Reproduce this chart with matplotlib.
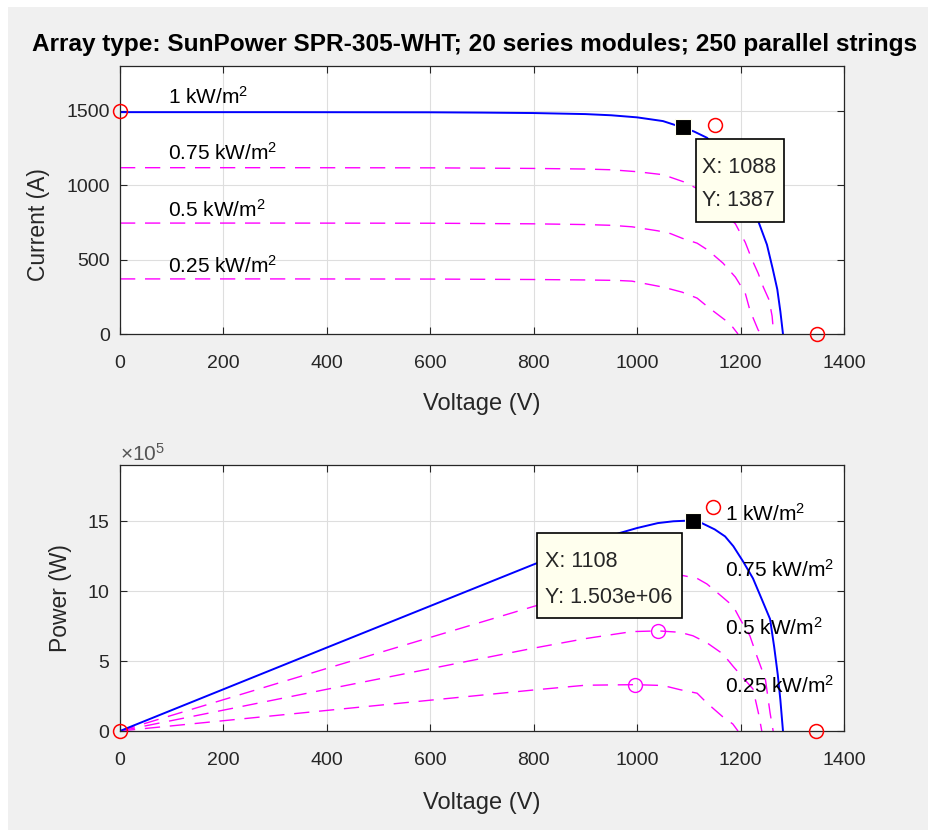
from __future__ import annotations

import matplotlib

matplotlib.use("Agg")
import matplotlib.pyplot as plt
from matplotlib.patches import Rectangle

TITLE = "Array type: SunPower SPR-305-WHT; 20 series modules; 250 parallel strings"
LEVEL_LABELS = ["1 kW/m$^2$", "0.75 kW/m$^2$", "0.5 kW/m$^2$", "0.25 kW/m$^2$"]

# I-V curves, voltage in V and current in A
V_IV_100 = [0, 300, 600, 700, 800, 900, 950, 1000, 1050, 1088, 1110, 1135, 1160, 1186, 1200, 1215, 1234, 1251, 1262, 1271, 1277, 1282]
I_IV_100 = [1490, 1490, 1489, 1487, 1484, 1477, 1469, 1455, 1430, 1387, 1360, 1318, 1230, 1113, 1040, 950, 760, 600, 440, 300, 150, 0]
V_IV_75 = [0, 300, 600, 800, 900, 950, 1000, 1050, 1090, 1116, 1135, 1164, 1190, 1209, 1222, 1234, 1244, 1255, 1261, 1264]
I_IV_75 = [1117, 1117, 1116, 1112, 1108, 1103, 1090, 1070, 1022, 977, 925, 825, 740, 616, 500, 408, 315, 230, 120, 0]
V_IV_50 = [0, 300, 600, 800, 900, 950, 990, 1040, 1064, 1087, 1116, 1137, 1166, 1190, 1209, 1218, 1234, 1240]
I_IV_50 = [745, 745, 744, 740, 735, 730, 720, 693, 675, 643, 610, 563, 476, 382, 275, 160, 27, 0]
V_IV_25 = [0, 300, 600, 800, 900, 960, 990, 1050, 1087, 1116, 1137, 1170, 1185, 1195]
I_IV_25 = [370, 370, 369, 366, 363, 360, 355, 315, 281, 241, 181, 94, 45, 0]

# P-V curves, voltage in V and power in W
V_PV_100 = [0, 400, 800, 900, 967, 1000, 1040, 1070, 1095, 1108, 1125, 1150, 1170, 1186, 1205, 1224, 1240, 1257, 1265, 1272, 1277, 1282]
P_PV_100 = [0, 5.96e5, 11.9e5, 13.3e5, 14.15e5, 14.5e5, 14.85e5, 14.98e5, 15.02e5, 15.03e5, 14.85e5, 14.4e5, 13.9e5, 13.2e5, 12.1e5, 10.9e5, 9.5e5, 8.0e5, 6.0e5, 4.0e5, 2.2e5, 0]
V_PV_75 = [0, 400, 800, 900, 1000, 1050, 1089, 1116, 1135, 1164, 1186, 1199, 1218, 1232, 1248, 1257, 1263]
P_PV_75 = [0, 4.47e5, 8.9e5, 9.97e5, 10.9e5, 11.2e5, 11.1e5, 10.9e5, 10.5e5, 9.6e5, 8.9e5, 8.0e5, 6.8e5, 5.3e5, 3.7e5, 1.3e5, 0]
V_PV_50 = [0, 400, 800, 900, 990, 1041, 1083, 1108, 1135, 1166, 1186, 1224, 1235, 1241]
P_PV_50 = [0, 2.98e5, 5.92e5, 6.6e5, 7.1e5, 7.15e5, 7.05e5, 6.8e5, 6.3e5, 5.5e5, 4.6e5, 3.0e5, 1.2e5, 0]
V_PV_25 = [0, 400, 800, 900, 996, 1050, 1083, 1116, 1135, 1166, 1185, 1195]
P_PV_25 = [0, 1.47e5, 2.93e5, 3.27e5, 3.31e5, 3.25e5, 2.95e5, 2.7e5, 2.0e5, 1.0e5, 0.5e5, 0]

# reference points (red circles) and maximum power markers
REF_V_IV = [0, 1151, 1348]
REF_I_IV = [1500, 1406, 0]
REF_V_PV = [0, 1147, 1346]
REF_P_PV = [0, 16.0e5, 0]
MPP_V = [1055, 1041, 996]
MPP_P = [11.2e5, 7.15e5, 3.31e5]

TIP_IV = (1088, 1387)
TIP_PV = (1108, 1.503e6)

BLUE = "#0000ff"
MAGENTA = "#ff00ff"
RED = "#ff0000"
DARK = "#262626"
TIP_FACE = "#ffffee"


def _style_axes(ax, ylim, yticks):
    ax.set_xlim(0, 1400)
    ax.set_xticks(range(0, 1401, 200))
    ax.set_ylim(*ylim)
    ax.set_yticks(yticks)
    ax.grid(True, color="#dedede", linewidth=0.8)
    ax.set_axisbelow(True)
    ax.tick_params(direction="in", top=True, right=True, length=5, width=0.8,
                   colors=DARK, labelsize=14)
    ax.tick_params(axis="x", pad=15)
    ax.tick_params(axis="y", pad=7)
    for spine in ax.spines.values():
        spine.set_color(DARK)
        spine.set_linewidth(0.9)


def _datatip(ax, box, text_x, rows):
    x0, y0, x1, y1 = box
    ax.add_patch(Rectangle((x0, y0), x1 - x0, y1 - y0, facecolor=TIP_FACE,
                           edgecolor="black", linewidth=1.2, zorder=6))
    for y, row in rows:
        ax.text(text_x, y, row, fontsize=15.5, color=DARK, va="center", ha="left", zorder=7)


def main() -> None:
    plt.rcParams["font.family"] = ["Liberation Sans", "DejaVu Sans"]
    plt.rcParams["mathtext.fontset"] = "custom"
    plt.rcParams["mathtext.rm"] = "Liberation Sans"
    plt.rcParams["mathtext.default"] = "regular"

    fig = plt.figure(figsize=(9.29, 8.30), dpi=100, facecolor="white")
    fig.patches.append(Rectangle((8 / 929, 0), 1, 1 - 7 / 830, transform=fig.transFigure,
                                 facecolor="#f0f0f0", edgecolor="none", zorder=-10))

    dash = (0, (11, 7))

    # --- current vs voltage ---
    ax1 = fig.add_axes([120 / 929, 1 - 334 / 830, 724 / 929, 268 / 830])
    _style_axes(ax1, (0, 1800), [0, 500, 1000, 1500])
    ax1.plot(V_IV_75, I_IV_75, color=MAGENTA, lw=1.0, ls=dash)
    ax1.plot(V_IV_50, I_IV_50, color=MAGENTA, lw=1.0, ls=dash)
    ax1.plot(V_IV_25, I_IV_25, color=MAGENTA, lw=1.0, ls=dash)
    ax1.plot(V_IV_100, I_IV_100, color=BLUE, lw=1.4)
    ax1.plot(REF_V_IV, REF_I_IV, ls="none", marker="o", ms=10, mfc="none", mec=RED, mew=1.1, clip_on=False, zorder=5)
    ax1.plot(*TIP_IV, marker="s", ms=11, color="black", mec="#fffff0", mew=0.8, zorder=5)
    for label, y in zip(LEVEL_LABELS, [1590, 1215, 835, 460]):
        ax1.text(93, y, label, fontsize=15, color="black", va="center", ha="left")
    _datatip(ax1, (1114, 750, 1284, 1313), 1125,
             [(1119, f"X: {TIP_IV[0]}"), (898, f"Y: {TIP_IV[1]}")])
    ax1.set_xlabel("Voltage (V)", fontsize=17, color=DARK)
    ax1.set_ylabel("Current (A)", fontsize=16.5, color=DARK)
    ax1.xaxis.set_label_coords(0.5, -0.222)
    ax1.yaxis.set_label_coords(-0.097, 0.41)

    # --- power vs voltage ---
    ax2 = fig.add_axes([120 / 929, 1 - 731 / 830, 724 / 929, 266 / 830])
    _style_axes(ax2, (0, 1.9e6), [0, 5e5, 10e5, 15e5])
    ax2.ticklabel_format(axis="y", style="sci", scilimits=(5, 5), useMathText=True)
    ax2.yaxis.get_offset_text().set_fontsize(15)
    ax2.yaxis.get_offset_text().set_color("#555555")
    ax2.plot(V_PV_75, P_PV_75, color=MAGENTA, lw=1.0, ls=dash)
    ax2.plot(V_PV_50, P_PV_50, color=MAGENTA, lw=1.0, ls=dash)
    ax2.plot(V_PV_25, P_PV_25, color=MAGENTA, lw=1.0, ls=dash)
    ax2.plot(V_PV_100, P_PV_100, color=BLUE, lw=1.4)
    ax2.plot(MPP_V, MPP_P, ls="none", marker="o", ms=10, mfc="none", mec=MAGENTA, mew=1.0, zorder=4)
    ax2.plot(REF_V_PV, REF_P_PV, ls="none", marker="o", ms=10, mfc="none", mec=RED, mew=1.1, clip_on=False, zorder=5)
    ax2.plot(*TIP_PV, marker="s", ms=11, color="black", mec="#fffff0", mew=0.8, zorder=5)
    for label, y in zip(LEVEL_LABELS, [15.5e5, 11.5e5, 7.4e5, 3.2e5]):
        ax2.text(1170, y, label, fontsize=15, color="black", va="center", ha="left")
    _datatip(ax2, (806, 8.04e5, 1086, 14.11e5), 822,
             [(12.1e5, f"X: {TIP_PV[0]}"), (9.57e5, f"Y: {TIP_PV[1]:.3e}")])
    ax2.set_xlabel("Voltage (V)", fontsize=17, color=DARK)
    ax2.set_ylabel("Power (W)", fontsize=16.5, color=DARK)
    ax2.xaxis.set_label_coords(0.5, -0.228)
    ax2.yaxis.set_label_coords(-0.066, 0.5)

    # the title is slightly narrower than in the reference so that it stays inside the figure
    fig.text(475 / 929, 1 - 44 / 830, TITLE, fontsize=17.6, fontweight="bold",
             ha="center", va="center", color="black")

    fig.savefig("out.png", dpi=100, facecolor=fig.get_facecolor())
    plt.close(fig)


if __name__ == "__main__":
    main()
